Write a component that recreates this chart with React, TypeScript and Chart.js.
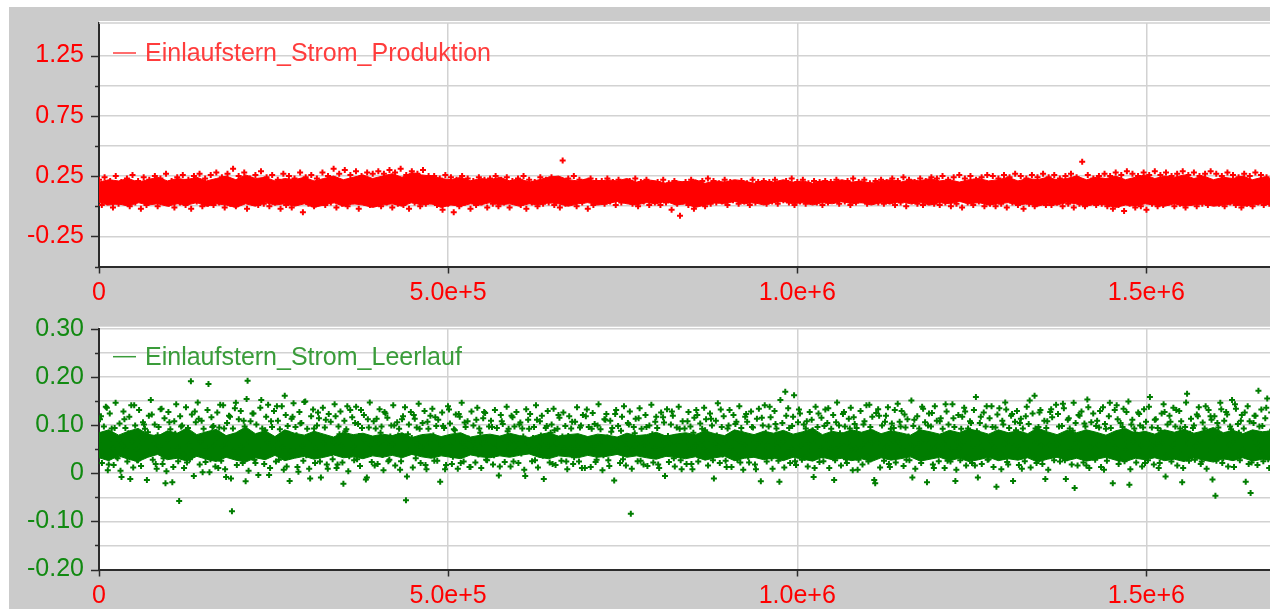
import React, { useEffect, useRef } from 'react';
import { Chart, registerables } from 'chart.js';

Chart.register(...registerables);

// ---------- text ----------
const topSeriesName = 'Einlaufstern_Strom_Produktion';
const bottomSeriesName = 'Einlaufstern_Strom_Leerlauf';

// ---------- x axis ----------
const xTickValues = [0, 500000, 1000000, 1500000];
const xMax = 1750000;
const redSampleStep = 4000;
const greenSampleStep = 2800;
const redCoreStep = 14000;
const greenCoreStep = 14000;

// ---------- y axis ticks ----------
const topYRange = [-0.5, 1.52];
const topYStep = 0.25;
const topYLabelled = [1.25, 0.75, 0.25, -0.25];
const bottomYRange = [-0.2, 0.3];
const bottomYStep = 0.05;
const bottomYLabelled = [0.3, 0.2, 0.1, 0, -0.1, -0.2];

// ---------- Einlaufstern_Strom_Produktion (red) ----------
// scattered samples (edges of the cloud and outliers)
const redValues = [
  .22,.01,.24,.03,.21,-.01,.25,.02,.20,.04,.23,.00,.26,.03,.21,-.02,.24,.01,.22,.05,
  .25,.00,.23,.04,.27,.02,.21,-.01,.24,.03,.26,.01,.22,-.02,.25,.04,.27,.00,.23,.02,
  .26,.01,.28,.03,.24,-.01,.27,.02,.31,.00,.25,.04,.28,-.02,.23,.03,.26,.01,.29,.02,
  .24,.00,.26,.03,.22,-.02,.27,.01,.25,-.01,.23,.03,.28,-.05,.24,.02,.26,.00,.23,.04,
  .28,.01,.25,.03,.31,-.01,.27,.02,.30,.00,.26,.04,.29,-.02,.25,.03,.28,.01,.27,.02,
  .29,.00,.27,.03,.30,-.01,.28,.02,.31,.01,.26,-.02,.29,.03,.27,.00,.30,.02,.25,.04,
  .25,.01,.23,-.03,.26,.02,.24,-.05,.22,.00,.25,.03,.23,-.02,.21,.01,.24,.03,.22,-.01,
  .23,.02,.25,.00,.22,.03,.24,-.01,.21,.04,.23,.01,.25,-.02,.22,.03,.20,.00,.24,.02,
  .22,.03,.24,.01,.21,-.01,.38,.02,.23,.04,.25,.00,.22,.03,.20,-.02,.23,.01,.21,.04,
  .21,.02,.23,.04,.20,.01,.22,.03,.19,.05,.21,.02,.23,.00,.20,.04,.22,.01,.19,.03,
  .20,.01,.22,.03,.19,-.03,.21,.02,-.08,.04,.20,.01,.22,-.02,.19,.03,.21,.00,.23,.02,
  .21,.03,.19,.04,.22,.01,.20,.05,.18,.02,.21,.04,.19,.01,.22,.03,.20,.05,.21,.02,
  .20,.04,.22,.02,.19,.05,.21,.03,.23,.01,.20,.04,.22,.02,.19,.05,.21,.03,.20,.01,
  .21,.03,.20,.05,.22,.02,.19,.04,.21,.01,.23,.03,.20,.05,.22,.02,.19,.04,.21,.03,
  .22,.02,.20,.04,.23,.01,.21,.03,.24,.00,.22,.04,.20,.02,.23,.01,.21,.03,.24,.02,
  .23,.01,.25,.03,.22,.00,.24,.02,.26,-.01,.23,.03,.25,.01,.22,.04,.24,.00,.26,.02,
  .25,.00,.23,.02,.26,-.01,.24,.03,.27,.01,.25,-.02,.23,.02,.26,.00,.24,.03,.27,.01,
  .24,.01,.26,.03,.23,.00,.25,.02,.27,-.01,.24,.02,.37,.00,.26,.03,.23,.01,.25,.02,
  .27,.00,.25,-.02,.28,.01,.26,-.04,.29,.02,.27,-.01,.25,.00,.28,-.03,.26,.02,.29,.00,
  .26,.01,.28,.03,.25,.00,.27,.02,.29,-.01,.26,.03,.28,.00,.25,.02,.27,.01,.29,.03,
  .27,.02,.25,.00,.28,.03,.26,.01,.24,-.01,.27,.02,.25,.00,.28,.03,.26,.01,.24,.02,
];
// dense core of the red cloud (upper / lower edge), read every 14 000 samples
const redCoreHigh = [
  .20,.22,.21,.23,.20,.22,.24,.21,.23,.22,
  .24,.21,.23,.25,.22,.26,.23,.24,.21,.23,
  .22,.24,.21,.23,.25,.22,.24,.26,.23,.25,
  .27,.24,.28,.26,.25,.23,.22,.24,.21,.23,
  .22,.24,.21,.23,.20,.22,.24,.25,.22,.21,
  .23,.20,.22,.21,.23,.20,.22,.21,.19,.21,
  .20,.22,.19,.21,.20,.22,.21,.19,.21,.20,
  .22,.20,.21,.19,.21,.20,.22,.20,.21,.19,
  .21,.22,.20,.22,.21,.23,.21,.22,.20,.22,
  .23,.21,.22,.24,.21,.23,.22,.24,.22,.23,
  .25,.22,.24,.23,.25,.22,.24,.26,.23,.25,
  .24,.26,.23,.25,.22,.24,.23,.25,.22,.24,.23,
];
const redCoreLow = [
  .03,.01,.02,.00,.03,.01,.02,.00,.02,.01,
  .03,.00,.02,.01,-.01,.02,.00,.03,.01,.02,
  .00,.02,-.01,.01,.03,.00,.02,.01,-.01,.01,
  .02,.00,.03,.01,.02,-.01,.01,.00,.02,.01,
  .03,.01,.02,.00,.02,.01,.03,.02,.00,.02,
  .03,.01,.02,.04,.02,.01,.03,.02,.04,.01,
  .02,-.01,.01,.03,.02,.04,.02,.03,.01,.03,
  .04,.02,.03,.01,.03,.02,.04,.02,.03,.01,
  .03,.02,.04,.02,.03,.01,.03,.02,.04,.02,
  .03,.01,.02,.03,.01,.02,.00,.02,.01,.03,
  .02,.00,.02,.01,-.01,.01,.00,.02,.01,.00,
  .02,.00,.01,.02,.00,.01,.02,.00,.01,.02,.01,
];

// ---------- Einlaufstern_Strom_Leerlauf (green) ----------
// samples on the even positions (every 2 800)
const greenValues = [
  .061,.118,.043,.079,.136,.018,.072,.051,.094,.034,
  .068,.005,.057,.112,.049,.083,-.012,.066,.141,.052,
  .027,.074,.063,.101,.038,.085,.046,.122,.061,.019,
  .079,.056,.134,.031,-.021,.068,.106,.048,.013,.082,
  .054,-.058,.097,.039,.077,.022,.059,.191,.045,.128,
  .041,.113,.066,.002,.078,.054,.185,.029,.096,.057,
  .074,.011,.142,.058,.093,-.008,.061,.117,-.079,.047,
  .146,.032,.083,.056,.109,-.017,.192,.065,.044,.124,
  .021,.077,.048,.152,.036,.089,.063,-.004,.108,.051,
  .067,.139,.028,.071,.053,.161,.014,.082,.045,.117,
  .046,.079,.003,.103,.058,.148,.037,.074,-.011,.067,
  .093,.052,.126,.024,.075,.061,.111,.009,.069,.042,
  .064,.118,.018,.081,.057,-.022,.087,.139,.035,.072,
  .056,.104,.029,.077,.131,.044,.068,-.009,.095,.058,
  .071,.016,.113,.062,.084,.038,.127,.061,.025,.076,
  .059,.099,.042,.078,.007,.112,.063,-.056,.081,.048,
  .073,.121,.031,.059,.092,.054,.075,.017,.107,.063,
  .045,.078,.116,.026,.067,.058,.098,.008,.069,.132,
  .057,.034,.089,.071,.123,.021,.064,.105,.049,.072,
  .013,.066,.051,.111,.039,.084,.062,.127,.028,.069,
  .055,.096,.037,.073,.058,.014,.108,.072,.046,.087,
  .061,.119,.024,.068,.049,.101,.041,.076,-.006,.064,
  .092,.049,.073,.027,.111,.055,.078,.036,.067,.098,
  .058,.084,.019,.089,.062,.121,.043,.076,.051,.024,
  .077,.052,.107,.033,.071,.056,.095,.011,.069,.118,
  .044,.068,.092,.056,.023,.099,.059,.073,.037,.111,
  .074,.015,.086,.052,.123,.047,.065,.088,.029,.068,
  .053,.101,-.084,.049,.083,.061,.114,.026,.072,.057,
  .096,.039,.067,.081,.054,.117,.018,.069,.056,.105,
  .042,.077,.061,.128,.031,.075,.059,.092,.008,.073,
  .065,.108,.052,.019,.084,.057,.121,.036,.068,.051,
  .089,.045,.072,.113,.027,.061,.078,.055,.132,.039,
  .066,.013,.099,.054,.073,.041,.107,.068,.022,.081,
  .057,.123,.034,.069,.096,.052,.008,.077,.063,.115,
  .048,.084,.059,.138,.031,.067,.102,.053,-.018,.072,
  .066,.169,.043,.094,.051,.117,.025,.073,.132,.058,
  .079,.032,.108,.061,.046,.089,.011,.067,.124,.054,
  .037,.098,.069,.135,.052,.071,-.014,.106,.058,.083,
  .064,.127,.029,.062,.093,.049,.116,.051,.007,.075,
  .058,.101,.068,.034,.142,.061,.084,-.021,.063,.119,
  .046,.073,.107,.055,.019,.092,.068,.131,.039,.066,
  .097,.054,.122,.028,.076,.059,-.009,.111,.051,.083,
  .063,.138,.037,.068,.099,.052,.125,.011,.074,.057,
  .108,.043,.061,.143,.026,.079,.052,.114,-.016,.065,
  .051,.092,.064,.128,.033,.071,.104,.058,.016,.087,
  .062,.117,.047,.075,.139,.029,.066,.096,.053,-.028,
  .078,.041,.109,.061,.132,.018,.067,.123,.055,.089,
  .056,.104,.009,.072,.118,.048,.151,.067,.035,.093,
  .064,.126,.057,.082,-.012,.108,.059,.133,.038,.071,
  .059,.097,.071,.144,.027,.076,.114,.052,.088,-.031,
  .063,.121,.046,.069,.103,.016,.137,.054,.081,.035,
  .098,.058,.129,.073,.007,.092,.061,.146,.042,.074,
  .053,.112,.028,.077,.134,.049,.065,-.024,.101,.066,
  .084,.039,.123,.058,.095,.021,.072,.138,.053,.067,
  .111,.062,.011,.088,.064,.127,.036,.076,.107,.058,
  .072,.131,.044,.093,-.019,.069,.147,.061,.082,.033,
  .099,.057,.118,.068,.024,.086,.139,.048,.073,.111,
  .067,-.047,.104,.076,.133,.031,.078,.122,.059,.091,
  .066,.143,.038,.084,.109,.052,.126,.077,.019,-.041,
  .074,.119,.062,.171,.047,.098,.073,.136,.029,.086,
];
// samples on the odd positions (half a step later)
const greenValuesOdd = [
  .112,.021,.097,.138,.006,.124,.093,.017,.146,.031,
  .103,-.008,.128,.094,.024,.117,.141,.012,.099,.027,
  .131,.015,.106,.092,-.014,.119,.152,.028,.101,.009,
  .096,.133,.019,.114,.004,.127,.091,-.019,.108,.143,
  .025,.118,.099,.011,.137,.094,.029,.122,-.006,.106,
  .147,.018,.109,.092,.023,.131,.002,.116,.098,.014,
  .126,.095,.026,.141,.008,.104,.119,-.011,.093,.135,
  .017,.112,.129,.021,.097,.154,.005,.108,.124,.028,
  .101,-.004,.136,.093,.019,.117,.142,.011,.096,.129,
  .024,.109,.091,.139,.007,.121,.098,-.016,.113,.145,
  .096,.013,.127,.104,.026,.149,.092,.009,.118,.132,
  .021,.099,.114,-.009,.136,.095,.018,.123,.107,.029,
  .143,.011,.097,.128,.022,.109,.091,.004,.131,.116,
  .027,.138,.102,.015,.094,.121,-.013,.112,.147,.023,
  .108,.093,.019,.133,.097,.006,.124,.115,.028,.099,
  .141,.016,.106,.092,.025,.118,.137,-.007,.101,.127,
  .012,.113,.095,.144,.021,.104,.129,.008,.092,.119,
  .134,.026,.098,.111,-.018,.126,.094,.017,.139,.103,
  .019,.091,.122,.009,.117,.146,.024,.096,.108,.013,
  .128,.099,.022,.136,.093,.011,.114,.125,.027,.097,
  .109,.018,.131,.094,-.005,.121,.102,.023,.138,.092,
  .014,.116,.097,.127,.021,.105,.093,.007,.133,.111,
  .123,.025,.096,.141,.012,.108,.119,-.012,.094,.129,
  .022,.101,.134,.017,.092,.115,.026,.126,.098,.008,
  .118,.093,.019,.107,.137,.024,.099,.121,.011,.132,
  .096,.013,.125,.102,.028,.143,.091,.006,.112,.123,
  .027,.109,.094,-.015,.131,.098,.021,.117,.139,.016,
  .104,.128,.009,.096,.113,.025,.135,.092,.018,.121,
  .015,.099,.142,.022,.107,.094,.011,.126,.116,-.006,
  .133,.023,.101,.119,.014,.095,.138,.027,.108,.093,
  .019,.127,.097,.008,.115,.131,.024,.103,.092,.136,
  .112,.016,.124,.099,-.011,.109,.145,.021,.096,.118,
  .026,.093,.131,.013,.121,.102,.028,.139,.094,.007,
  .117,.107,.022,.128,.095,.018,.113,.134,-.017,.099,
  .141,.024,.097,.116,.009,.129,.093,.026,.152,.104,
  .012,.119,.135,.021,.098,.162,.017,.106,.124,.028,
  .101,.093,.014,.127,.111,-.008,.138,.096,.023,.115,
  .025,.132,.104,.011,.092,.121,.027,.147,.099,.016,
  .123,.097,.021,.113,.136,.006,.102,.094,.028,.129,
  .018,.108,.141,.024,.096,.117,-.014,.125,.133,.012,
  .099,.026,.119,.137,.013,.103,.094,.022,.144,.107,
  .129,.015,.095,.112,.027,.151,.098,.009,.118,.093,
  .021,.134,.106,-.019,.124,.097,.018,.139,.109,.025,
  .114,.092,.011,.128,.101,.024,.143,.096,.007,.121,
  .027,.117,.136,.016,.093,.108,.021,.131,.158,-.009,
  .104,.019,.126,.097,.028,.114,.139,.013,.095,.122,
  .135,.008,.101,.147,.023,.094,.119,-.016,.107,.129,
  .017,.113,.093,.025,.138,.102,.012,.124,.161,.021,
  .096,.131,.019,.109,.094,.007,.127,.116,.027,.142,
  .123,.024,.098,.135,-.012,.111,.093,.018,.146,.104,
  .016,.119,.128,.022,.097,.153,.011,.106,.124,.028,
  .109,.095,.013,.137,.102,.026,.118,.094,-.021,.131,
  .141,.019,.104,.096,.025,.127,.149,.008,.111,.093,
  .022,.126,.099,.014,.133,.107,.027,.158,.095,.018,
  .112,.094,.021,.124,.143,-.007,.101,.119,.024,.136,
  .097,.016,.129,.108,.011,.096,.165,.026,.113,.094,
  .028,.122,.137,.019,.105,.093,.009,.131,.118,-.013,
  .118,.026,.095,.146,.021,.109,.127,.014,.097,.152,
  .013,.134,.102,.027,.121,.093,-.018,.139,.108,.022,
  .104,.119,.017,.097,.132,.025,.114,.155,.011,.126,
];
// dense core of the green cloud, read every 14 000 samples
const greenCoreHigh = [
  .084,.090,.079,.087,.093,.081,.077,.088,.083,.094,
  .080,.086,.091,.078,.084,.096,.082,.088,.076,.090,
  .083,.079,.087,.081,.075,.085,.080,.083,.077,.081,
  .078,.084,.074,.080,.082,.076,.081,.084,.075,.079,
  .081,.077,.083,.078,.074,.080,.084,.077,.080,.082,
  .076,.081,.079,.075,.083,.078,.080,.085,.077,.081,
  .084,.080,.088,.082,.078,.090,.085,.080,.087,.083,
  .089,.081,.086,.093,.080,.087,.083,.090,.085,.091,
  .082,.088,.084,.079,.090,.086,.081,.089,.084,.092,
  .087,.081,.090,.084,.088,.082,.094,.086,.080,.089,
  .084,.090,.085,.079,.088,.093,.083,.087,.081,.090,
  .085,.091,.083,.088,.095,.084,.089,.082,.090,.086,.088,
];
const greenCoreLow = [
  .032,.026,.036,.029,.024,.033,.039,.028,.031,.025,
  .035,.029,.024,.033,.027,.023,.032,.028,.037,.026,
  .031,.035,.029,.033,.038,.032,.034,.030,.036,.033,
  .037,.032,.039,.034,.031,.036,.033,.030,.038,.034,
  .032,.036,.033,.037,.040,.033,.030,.036,.034,.032,
  .037,.033,.035,.039,.033,.036,.032,.029,.035,.033,
  .030,.034,.027,.032,.035,.026,.031,.033,.028,.032,
  .026,.033,.029,.025,.033,.028,.031,.026,.030,.024,
  .032,.027,.030,.034,.025,.029,.033,.026,.031,.024,
  .028,.033,.026,.030,.027,.032,.023,.029,.033,.026,
  .031,.025,.029,.033,.027,.024,.031,.028,.032,.026,
  .029,.024,.032,.027,.023,.030,.026,.032,.025,.029,.027,
];

const FONT = '"Liberation Sans", Arial, sans-serif';

type Spec = {
  name: string;
  points: { x: number; y: number }[];
  coreHigh: number[];
  coreLow: number[];
  coreStep: number;
  pointColor: string;
  legendColor: string;
  yTickColor: string;
  yRange: number[];
  yStep: number;
  yLabelled: number[];
  yFormat: (v: number) => string;
  pointRadius: number;
  pointWidth: number;
  padTop: number;
  xAxisHeight: number;
  legendDy: number;
  topFrame: boolean;
};

function toXY(vals: number[], step: number, offset = 0) {
  return vals.map((y, i) => ({ x: offset + i * step, y }));
}

function isMultiple(v: number, step: number) {
  const r = v / step;
  return Math.abs(r - Math.round(r)) < 1e-6;
}

function buildChart(canvas: HTMLCanvasElement, s: Spec) {
  const decor = {
    id: 'decor',
    beforeDraw(chart: any) {
      const { ctx, chartArea: a } = chart;
      ctx.save();
      ctx.fillStyle = '#ffffff';
      ctx.fillRect(a.left, a.top - 2, a.right - a.left, a.bottom - a.top + 2);
      ctx.restore();
    },
    afterDraw(chart: any) {
      const { ctx, chartArea: a } = chart;
      const ys = chart.scales.y;
      const xs = chart.scales.x;
      ctx.save();
      if (s.topFrame) {
        ctx.strokeStyle = '#d0d0d0';
        ctx.lineWidth = 1.5;
        ctx.beginPath();
        ctx.moveTo(a.left, a.top);
        ctx.lineTo(a.right, a.top);
        ctx.stroke();
      }
      // tick marks
      ctx.strokeStyle = '#2b2b2b';
      ctx.lineWidth = 1.5;
      ys.ticks.forEach((t: any) => {
        const py = Math.round(ys.getPixelForValue(t.value)) + 0.5;
        const major = t.label !== '';
        ctx.beginPath();
        ctx.moveTo(a.left - (major ? 8 : 4), py);
        ctx.lineTo(a.left, py);
        ctx.stroke();
      });
      xs.ticks.forEach((t: any) => {
        const px = Math.round(xs.getPixelForValue(t.value)) + 0.5;
        ctx.beginPath();
        ctx.moveTo(px, a.bottom);
        ctx.lineTo(px, a.bottom + 7);
        ctx.stroke();
      });
      // legend
      const ly = a.top + s.legendDy;
      ctx.strokeStyle = s.legendColor;
      ctx.lineWidth = 1.5;
      ctx.beginPath();
      ctx.moveTo(a.left + 14, ly);
      ctx.lineTo(a.left + 37, ly);
      ctx.stroke();
      ctx.fillStyle = s.legendColor;
      ctx.font = `25px ${FONT}`;
      ctx.textBaseline = 'middle';
      ctx.textAlign = 'left';
      ctx.fillText(s.name, a.left + 46, ly + 1);
      ctx.restore();
    },
  };

  return new Chart(canvas, {
    type: 'scatter',
    data: {
      datasets: [
        {
          type: 'line',
          label: s.name + ' core high',
          data: toXY(s.coreHigh, s.coreStep),
          borderColor: s.pointColor,
          borderWidth: 1,
          pointRadius: 0,
          fill: false,
          tension: 0,
          order: 2,
        } as any,
        {
          type: 'line',
          label: s.name + ' core low',
          data: toXY(s.coreLow, s.coreStep),
          borderColor: s.pointColor,
          borderWidth: 1,
          backgroundColor: s.pointColor,
          pointRadius: 0,
          fill: '-1',
          tension: 0,
          order: 2,
        } as any,
        {
          label: s.name,
          data: s.points,
          pointStyle: 'cross',
          pointRadius: s.pointRadius,
          borderWidth: s.pointWidth,
          borderColor: s.pointColor,
          backgroundColor: s.pointColor,
          order: 1,
        } as any,
      ],
    },
    options: {
      responsive: false,
      animation: false,
      events: [],
      layout: { padding: { top: s.padTop, left: 0, right: 48, bottom: 0 } },
      plugins: { legend: { display: false }, tooltip: { enabled: false } },
      scales: {
        x: {
          type: 'linear',
          position: 'bottom',
          min: 0,
          max: xMax,
          afterBuildTicks: (sc: any) => {
            sc.ticks = xTickValues.map((v) => ({ value: v }));
          },
          afterFit: (sc: any) => {
            sc.height = s.xAxisHeight;
          },
          ticks: {
            autoSkip: false,
            maxRotation: 0,
            color: '#ff0000',
            font: { family: FONT, size: 25 },
            padding: 12,
            callback: (v: any) => (Number(v) === 0 ? '0' : Number(v).toExponential(1)),
          },
          grid: { color: '#d2d2d2', lineWidth: 1.5, drawTicks: false },
          border: { color: '#2b2b2b', width: 2 },
        },
        y: {
          type: 'linear',
          position: 'left',
          min: s.yRange[0],
          max: s.yRange[1],
          afterBuildTicks: (sc: any) => {
            sc.ticks = sc.ticks.filter((t: any) => isMultiple(t.value, s.yStep));
          },
          afterFit: (sc: any) => {
            sc.width = 90;
          },
          ticks: {
            stepSize: s.yStep,
            autoSkip: false,
            color: s.yTickColor,
            font: { family: FONT, size: 25 },
            padding: 0,
            callback: (v: any) => {
              const n = Number(v);
              const lab = s.yLabelled.some((l) => Math.abs(l - n) < 1e-6);
              return lab ? s.yFormat(n) : '';
            },
          },
          grid: {
            color: '#d2d2d2',
            lineWidth: 1.5,
            drawTicks: true,
            tickLength: 15,
            tickColor: 'rgba(0,0,0,0)',
          },
          border: { color: '#2b2b2b', width: 2 },
        },
      },
    },
    plugins: [decor],
  } as any);
}

const topSpec: Spec = {
  name: topSeriesName,
  points: toXY(redValues, redSampleStep),
  coreHigh: redCoreHigh,
  coreLow: redCoreLow,
  coreStep: redCoreStep,
  pointColor: '#ff0000',
  legendColor: '#ff3c3c',
  yTickColor: '#ff0000',
  yRange: topYRange,
  yStep: topYStep,
  yLabelled: topYLabelled,
  yFormat: (v) => v.toFixed(2),
  pointRadius: 3,
  pointWidth: 2,
  padTop: 16,
  xAxisHeight: 38.5,
  legendDy: 30,
  topFrame: true,
};

const bottomSpec: Spec = {
  name: bottomSeriesName,
  points: toXY(greenValues, greenSampleStep).concat(
    toXY(greenValuesOdd, greenSampleStep, greenSampleStep / 2)
  ),
  coreHigh: greenCoreHigh,
  coreLow: greenCoreLow,
  coreStep: greenCoreStep,
  pointColor: '#007d00',
  legendColor: '#3a9c3a',
  yTickColor: '#118a11',
  yRange: bottomYRange,
  yStep: bottomYStep,
  yLabelled: bottomYLabelled,
  yFormat: (v) => (Math.abs(v) < 1e-9 ? '0' : v.toFixed(2)),
  pointRadius: 3,
  pointWidth: 2,
  padTop: 23.7,
  xAxisHeight: 39.5,
  legendDy: 28,
  topFrame: false,
};

export default function App() {
  const topRef = useRef<HTMLCanvasElement>(null);
  const bottomRef = useRef<HTMLCanvasElement>(null);

  useEffect(() => {
    const c1 = buildChart(topRef.current!, topSpec);
    const c2 = buildChart(bottomRef.current!, bottomSpec);
    return () => {
      c1.destroy();
      c2.destroy();
    };
  }, []);

  return (
    <div
      style={{
        position: 'fixed',
        left: 9,
        top: 7,
        right: 0,
        bottom: 0,
        background: '#cbcbcb',
        overflow: 'hidden',
      }}
    >
      <canvas
        ref={topRef}
        width={1360}
        height={298}
        style={{ position: 'absolute', left: 0, top: 0, width: 1360, height: 298 }}
      />
      <canvas
        ref={bottomRef}
        width={1360}
        height={304}
        style={{ position: 'absolute', left: 0, top: 298, width: 1360, height: 304 }}
      />
    </div>
  );
}
